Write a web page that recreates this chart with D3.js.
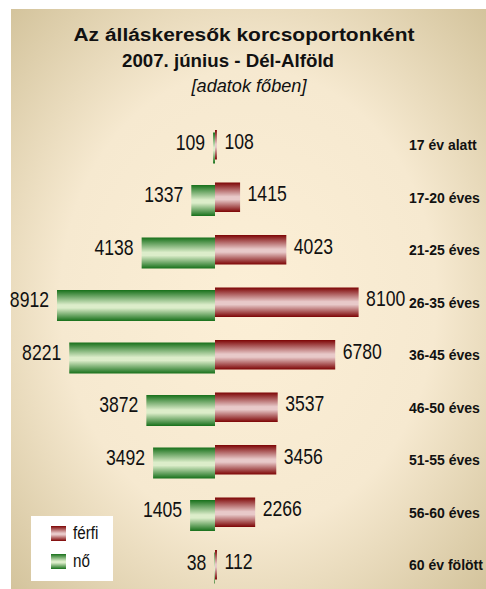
<!DOCTYPE html>
<html lang="hu">
<head>
<meta charset="UTF-8" />
<script src="https://d3js.org/d3.v7.min.js"></script>
<title>Álláskeresők korcsoportonként</title>
<style>
  body { margin: 0; background: #fff; }
  text { font-family: "Liberation Sans", Arial, sans-serif; }
  .num { font-size: 22px; fill: #111; }
</style>
</head>
<body>
<svg id="chart" width="486" height="589"></svg>
<script>
// korcsoportok
var ageGroups = ["17 év alatt", "17-20 éves", "21-25 éves", "26-35 éves", "36-45 éves",
                 "46-50 éves", "51-55 éves", "56-60 éves", "60 év fölött"];
var ferfi = [108, 1415, 4023, 8100, 6780, 3537, 3456, 2266, 112];
var no = [109, 1337, 4138, 8912, 8221, 3872, 3492, 1405, 38];
var seriesNames = ["férfi", "nő"];
var titleLines = ["Az álláskeresők korcsoportonként", "2007. június - Dél-Alföld", "[adatok főben]"];

var svg = d3.select("#chart");
var narrow = 0.8; // keskeny betű (Arial Narrow helyett)

var defs = svg.append("defs");

var bg = defs.append("radialGradient").attr("id", "bg")
  .attr("cx", "0.5").attr("cy", "0.5").attr("r", "0.72");
bg.append("stop").attr("offset", "0").attr("stop-color", "#fcefd6");
bg.append("stop").attr("offset", "0.55").attr("stop-color", "#f6e9d0");
bg.append("stop").attr("offset", "1").attr("stop-color", "#d2c29a");

function barGrad(id, dark, light) {
  var g = defs.append("linearGradient").attr("id", id)
    .attr("x1", 0).attr("y1", 0).attr("x2", 0).attr("y2", 1);
  g.append("stop").attr("offset", "0").attr("stop-color", dark);
  g.append("stop").attr("offset", "0.48").attr("stop-color", light);
  g.append("stop").attr("offset", "0.58").attr("stop-color", light);
  g.append("stop").attr("offset", "1").attr("stop-color", dark);
}
barGrad("gFerfi", "#7d0404", "#e8c9c9");
barGrad("gNo", "#17701a", "#dcedca");

// háttér panel
svg.append("rect")
  .attr("x", 11).attr("y", 9).attr("width", 475).attr("height", 580)
  .attr("fill", "url(#bg)");

// cím
var titleX = [244, 228, 249], titleY = [41, 67, 92], titleW = [341, 212, 115];
svg.selectAll(".title")
  .data(titleLines)
  .enter()
  .append("text")
    .attr("class", "title")
    .attr("x", function(d, i){ return titleX[i] })
    .attr("y", function(d, i){ return titleY[i] })
    .attr("text-anchor", "middle")
    .attr("textLength", function(d, i){ return titleW[i] })
    .attr("lengthAdjust", "spacingAndGlyphs")
    .style("font-size", function(d, i){ return i < 2 ? "18px" : "18px" })
    .style("font-weight", function(d, i){ return i < 2 ? "bold" : "normal" })
    .style("font-style", function(d, i){ return i < 2 ? "normal" : "italic" })
    .attr("fill", "#111")
    .text(function(d){ return d });

var x = d3.scaleLinear()
  .domain([-10000, 10000])
  .range([37.7, 392.3]);

var y = d3.scalePoint()
  .domain(ageGroups)
  .range([142, 562]);

var rows = ageGroups.map(function(g, i){ return {group: g, f: ferfi[i], n: no[i]} });

// nő (balra)
svg.append("g").selectAll("rect")
  .data(rows)
  .enter()
  .append("rect")
    .attr("x", function(d){ return x(-d.n) })
    .attr("y", function(d){ return y(d.group) - 9.5 })
    .attr("width", function(d){ return x(0) - x(-d.n) })
    .attr("height", 31)
    .attr("fill", "url(#gNo)");

// férfi (jobbra)
svg.append("g").selectAll("rect")
  .data(rows)
  .enter()
  .append("rect")
    .attr("x", x(0))
    .attr("y", function(d){ return y(d.group) - 12 })
    .attr("width", function(d){ return x(d.f) - x(0) })
    .attr("height", 29.5)
    .attr("fill", "url(#gFerfi)");

// értékek
svg.append("g").selectAll("text")
  .data(rows)
  .enter()
  .append("text")
    .attr("class", "num")
    .attr("transform", function(d){
      return "translate(" + (x(-d.n) - 8) + "," + (y(d.group) + 7.5) + ") scale(" + narrow + ",1)" })
    .attr("text-anchor", "end")
    .text(function(d){ return d.n });

svg.append("g").selectAll("text")
  .data(rows)
  .enter()
  .append("text")
    .attr("class", "num")
    .attr("transform", function(d){
      return "translate(" + (x(d.f) + 7.5) + "," + (y(d.group) + 6.5) + ") scale(" + narrow + ",1)" })
    .text(function(d){ return d.f });

// korcsoport feliratok
svg.append("g").selectAll("text")
  .data(ageGroups)
  .enter()
  .append("text")
    .attr("x", 409)
    .attr("y", function(d){ return y(d) + 8 })
    .style("font-size", "14px")
    .style("font-weight", "bold")
    .attr("fill", "#111")
    .text(function(d){ return d });

// jelmagyarázat
var legend = svg.append("g");
legend.append("rect")
  .attr("x", 31).attr("y", 516).attr("width", 82).attr("height", 65)
  .attr("fill", "#fff");
var lg = legend.selectAll("g")
  .data(seriesNames)
  .enter()
  .append("g")
    .attr("transform", function(d, i){ return "translate(51," + (526 + i * 28) + ")" });
lg.append("rect")
  .attr("width", 15).attr("height", 15)
  .attr("fill", function(d, i){ return i == 0 ? "url(#gFerfi)" : "url(#gNo)" });
lg.append("text")
  .attr("class", "num")
  .attr("transform", "translate(22,13) scale(" + narrow + ",1)")
  .style("font-size", "19px")
  .text(function(d){ return d });
</script>
</body>
</html>
